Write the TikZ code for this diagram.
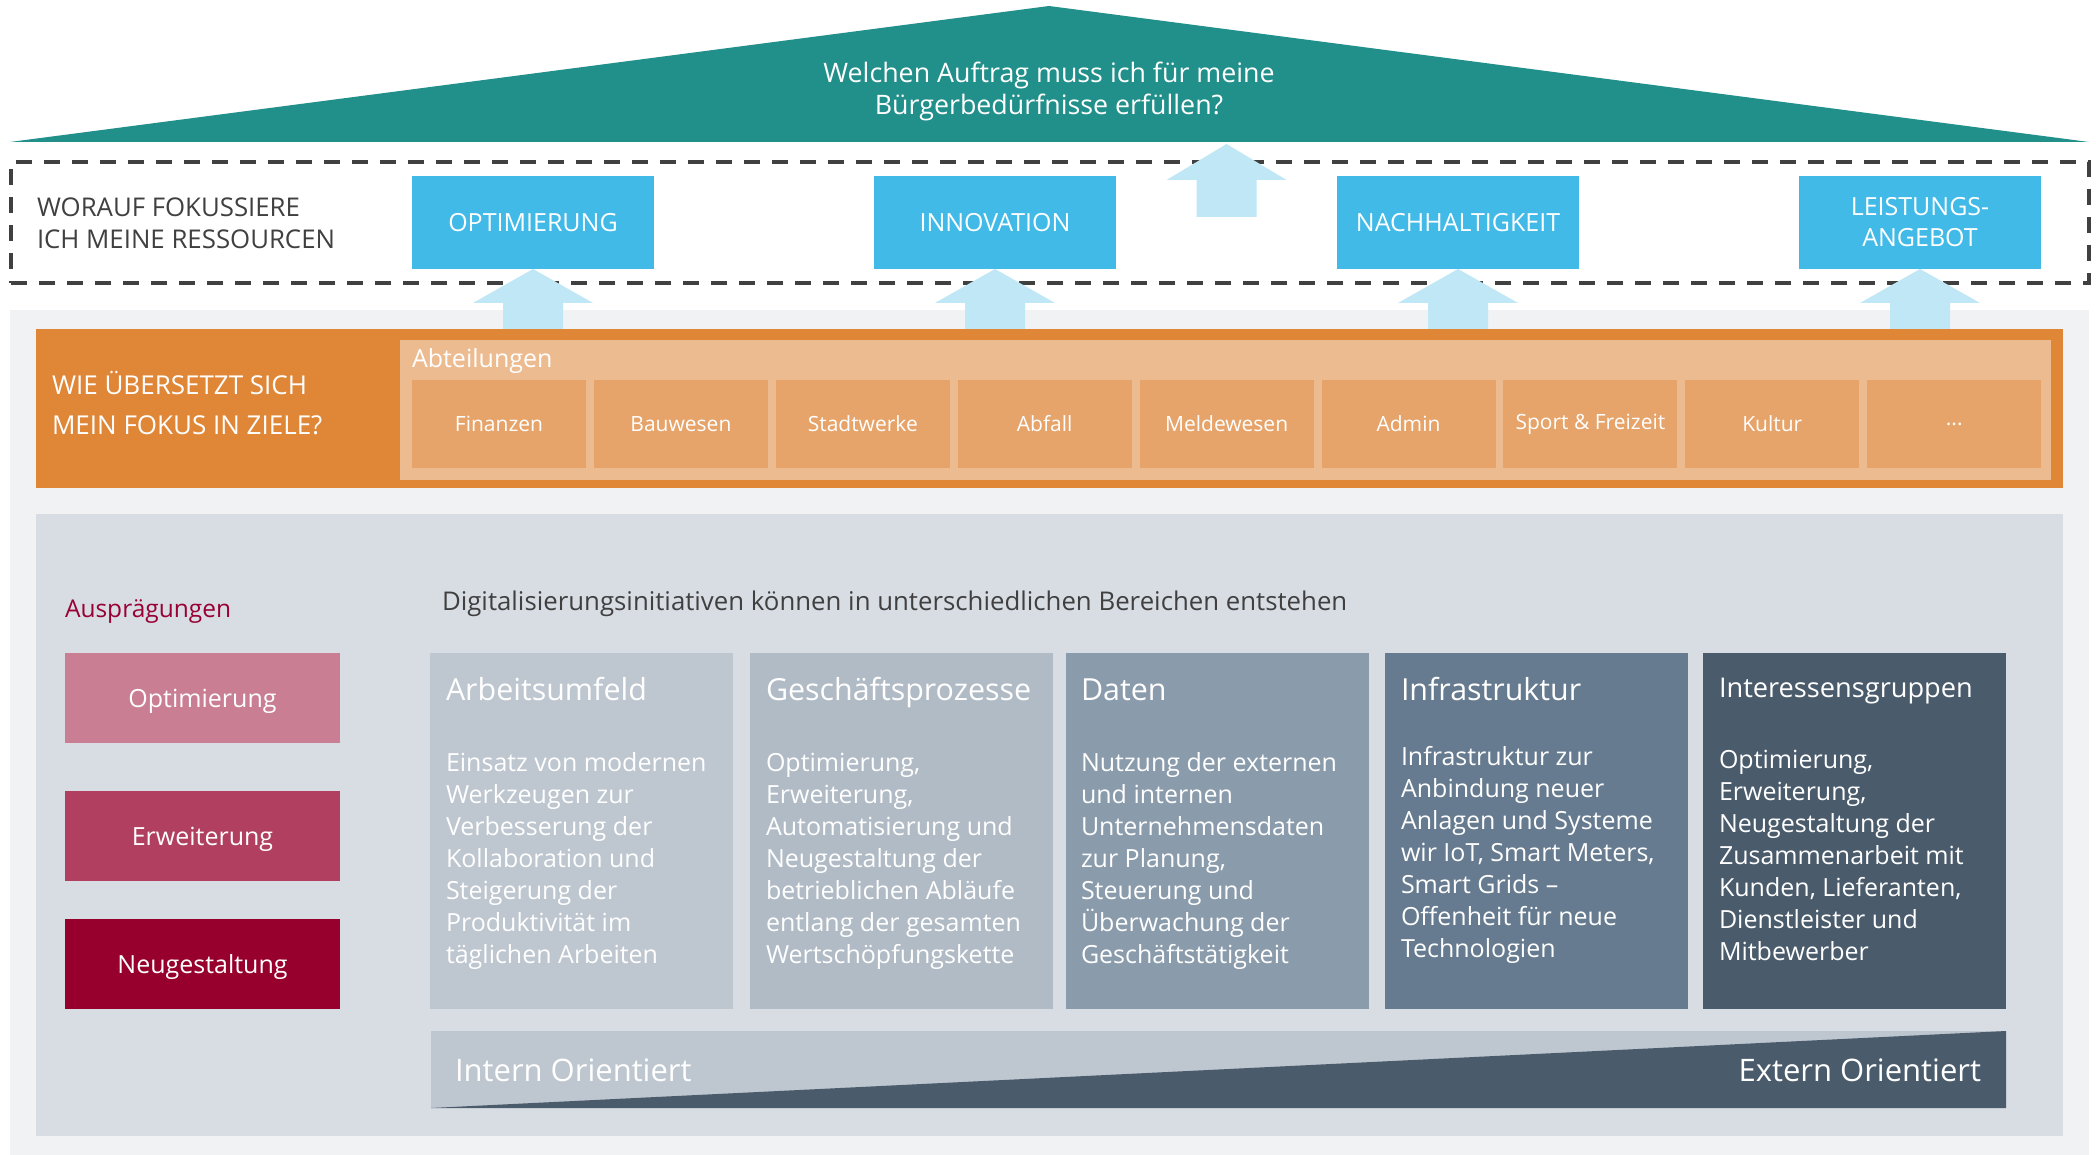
\documentclass[tikz,border=0pt]{standalone}
\usepackage{fontspec}
\setmainfont{Open Sans}
\usetikzlibrary{calc}
\definecolor{roofc}{HTML}{218F8A}
\definecolor{boxblue}{HTML}{41BAE8}
\definecolor{arrowc}{HTML}{BFE7F5}
\definecolor{bandc}{HTML}{F1F2F4}
\definecolor{orangec}{HTML}{DF8637}
\definecolor{lorange}{HTML}{EDBB90}
\definecolor{deptc}{HTML}{E6A46A}
\definecolor{panelc}{HTML}{D8DDE4}
\definecolor{darkred}{HTML}{990033}
\definecolor{pinkA}{HTML}{C97E93}
\definecolor{pinkB}{HTML}{B03F60}
\definecolor{pinkC}{HTML}{97002D}
\definecolor{colA}{HTML}{BEC6CF}
\definecolor{colB}{HTML}{B1BBC5}
\definecolor{colC}{HTML}{8A9BAB}
\definecolor{colD}{HTML}{667B8F}
\definecolor{colE}{HTML}{4A5B6C}
\definecolor{dgray}{HTML}{404040}
\begin{document}
\begin{tikzpicture}[x=1pt,y=-1pt,
  every node/.style={inner sep=0pt,outer sep=0pt},
  txt/.style={text=white,font=\fontsize{#1}{#1}\selectfont},
  dtxt/.style={text=dgray,font=\fontsize{#1}{#1}\selectfont},
  rectbox/.style 2 args={minimum width=#1pt,minimum height=#2pt,anchor=north west},
  focusbox/.style={rectbox={242}{93},fill=boxblue,text=white,align=center,font=\fontsize{25}{31}\selectfont},
  deptbox/.style={rectbox={174}{88},fill=deptc,text=white,font=\fontsize{21}{21}\selectfont},
  levelbox/.style={rectbox={275}{90},text=white,text depth=0pt,font=\fontsize{25}{25}\selectfont},
  colbox/.style={rectbox={303}{356}},
  upshape/.style={fill=arrowc,draw=none},
  dashbox/.style={draw=dgray,line width=4pt,dash pattern=on 16pt off 12pt}
]
\useasboundingbox (0,0) rectangle (2096,1155);
\fill[white] (0,0) rectangle (2096,1155);

% roof
\fill[roofc] (10,142) -- (1049,6) -- (2089,142) -- cycle;
\node[txt=26.8,anchor=base] (roof1) at (1049,83) {Welchen Auftrag muss ich für meine};
\node[txt=26.8,anchor=base] (roof2) at (1049,115) {Bürgerbedürfnisse erfüllen?};

% gray band
\fill[bandc] (10,310) rectangle (2089,1155);

% focus row
\node[dashbox,rectbox={2078}{121}] (focus) at (11,162) {};
\node[dtxt=25.8,anchor=base west] (fq1) at (37,217) {WORAUF FOKUSSIERE};
\node[dtxt=25.8,anchor=base west] (fq2) at (37,249) {ICH MEINE RESSOURCEN};
\node[focusbox] (opt) at (412,176) {OPTIMIERUNG};
\node[focusbox] (inn) at (874,176) {INNOVATION};
\node[focusbox] (nach) at (1337,176) {NACHHALTIGKEIT};
\node[focusbox] (leist) at (1799,176) {LEISTUNGS-\\ANGEBOT};

% orange row
\node[fill=orangec,rectbox={2027}{159}] (ziele) at (36,329) {};
\node[fill=lorange,rectbox={1651}{140}] (abt) at (400,340) {};
\node[txt=26,anchor=base west] (zq1) at (52,395) {WIE ÜBERSETZT SICH};
\node[txt=26,anchor=base west] (zq2) at (52,434) {MEIN FOKUS IN ZIELE?};
\node[txt=25,anchor=base west] (abtl) at (412,368) {Abteilungen};
\foreach \n [count=\i from 0] in {Finanzen,Bauwesen,Stadtwerke,Abfall,Meldewesen,Admin,Sport \& Freizeit,Kultur}
  \node[deptbox] (d\i) at ({412+181.9*\i},380) {\n};
\node[deptbox] (d8) at ({412+181.9*8},380) {...};

% arrows
\foreach \b in {opt,inn,nach,leist}
  \fill[upshape] (\b.south) -- ++(60,34) -- ++(-30,0) -- ++(0,26) -- ++(-60,0) -- ++(0,-26) -- ++(-30,0) -- cycle;
\coordinate (rooftip) at (1226.5,144);
\fill[upshape] (rooftip) -- ++(60,36) -- ++(-30,0) -- ++(0,37) -- ++(-60,0) -- ++(0,-37) -- ++(-30,0) -- cycle;

% lower panel
\node[fill=panelc,rectbox={2027}{622}] (panel) at (36,514) {};
\node[text=darkred,font=\fontsize{24.5}{24.5}\selectfont,anchor=base west] (auspr) at (65,617) {Ausprägungen};
\node[levelbox,fill=pinkA] (lopt) at (65,653) {Optimierung};
\node[levelbox,fill=pinkB] (lerw) at (65,791) {Erweiterung};
\node[levelbox,fill=pinkC] (lneu) at (65,919) {Neugestaltung};
\node[dtxt=25.8,anchor=base west] (dig) at (442,610) {Digitalisierungsinitiativen können in unterschiedlichen Bereichen entstehen};

\node[colbox,fill=colA] (c1) at (430,653) {};
\node[colbox,fill=colB] (c2) at (750,653) {};
\node[colbox,fill=colC] (c3) at (1066,653) {};
\node[colbox,fill=colD] (c4) at (1385,653) {};
\node[colbox,fill=colE] (c5) at (1703,653) {};

\node[txt=30.4,anchor=base west] (t1) at ($(c1.north west)+(16,47)$) {Arbeitsumfeld};
\node[txt=30.4,anchor=base west] (t2) at ($(c2.north west)+(16,47)$) {Geschäftsprozesse};
\node[txt=30.4,anchor=base west] (t3) at ($(c3.north west)+(15,47)$) {Daten};
\node[txt=30.4,anchor=base west] (t4) at ($(c4.north west)+(16,47)$) {Infrastruktur};
\node[txt=27.2,anchor=base west] (t5) at ($(c5.north west)+(16,44)$) {Interessensgruppen};

\foreach \l [count=\i from 0] in {Einsatz von modernen,Werkzeugen zur,Verbesserung der,Kollaboration und,Steigerung der,Produktivität im,täglichen Arbeiten}
  \node[txt=25,anchor=base west] (ba\i) at ($(c1.north west)+(16,118+32*\i)$) {\l};
\foreach \l [count=\i from 0] in {{Optimierung,},{Erweiterung,},Automatisierung und,Neugestaltung der,betrieblichen Abläufe,entlang der gesamten,Wertschöpfungskette}
  \node[txt=25,anchor=base west] (bb\i) at ($(c2.north west)+(16,118+32*\i)$) {\l};
\foreach \l [count=\i from 0] in {Nutzung der externen,und internen,Unternehmensdaten,{zur Planung,},Steuerung und,Überwachung der,Geschäftstätigkeit}
  \node[txt=25,anchor=base west] (bc\i) at ($(c3.north west)+(15,118+32*\i)$) {\l};
\foreach \l [count=\i from 0] in {Infrastruktur zur,Anbindung neuer,Anlagen und Systeme,{wir IoT, Smart Meters,},Smart Grids –,Offenheit für neue,Technologien}
  \node[txt=25,anchor=base west] (bd\i) at ($(c4.north west)+(16,112+32*\i)$) {\l};
\foreach \l [count=\i from 0] in {{Optimierung,},{Erweiterung,},Neugestaltung der,Zusammenarbeit mit,{Kunden, Lieferanten,},Dienstleister und,Mitbewerber}
  \node[txt=25,anchor=base west] (be\i) at ($(c5.north west)+(16,115+32*\i)$) {\l};

% orientation bar
\node[fill=colA,rectbox={1575}{77}] (bar) at (431,1031) {};
\fill[colE] (bar.south west) -- (bar.north east) -- (bar.south east) -- cycle;
\node[txt=31,anchor=base west] (intern) at (455,1081) {Intern Orientiert};
\node[txt=31,anchor=base east] (extern) at (1981,1081) {Extern Orientiert};
\end{tikzpicture}
\end{document}
